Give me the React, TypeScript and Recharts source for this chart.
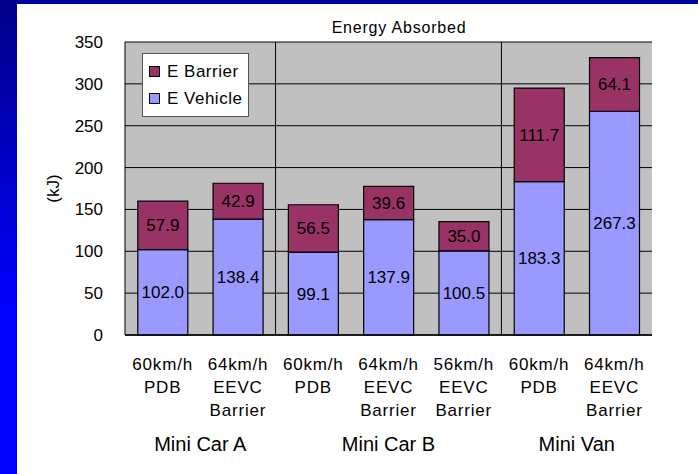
import React from 'react';
import { Bar, BarChart, CartesianGrid, LabelList, Legend, ReferenceLine, XAxis, YAxis } from 'recharts';

const FONT = '"Liberation Sans", Arial, sans-serif';

// one key per test, grouped by vehicle
const categories = ['A-PDB60', 'A-EEVC64', 'B-PDB60', 'B-EEVC64', 'B-EEVC56', 'V-PDB60', 'V-EEVC64'];
const tickLines = [
    ['60km/h', 'PDB'],
    ['64km/h', 'EEVC', 'Barrier'],
    ['60km/h', 'PDB'],
    ['64km/h', 'EEVC', 'Barrier'],
    ['56km/h', 'EEVC', 'Barrier'],
    ['60km/h', 'PDB'],
    ['64km/h', 'EEVC', 'Barrier'],
];
const vehicleEnergy = [102.0, 138.4, 99.1, 137.9, 100.5, 183.3, 267.3];
const barrierEnergy = [57.9, 42.9, 56.5, 39.6, 35.0, 111.7, 64.1];

const groupNames = ['Mini Car A', 'Mini Car B', 'Mini Van'];
const groupSizes = [2, 3, 2];

const yTicks = [0, 50, 100, 150, 200, 250, 300, 350];
const legendOrder = ['E Barrier', 'E Vehicle'];

const chartData = categories.map((key, i) => ({
    key,
    vehicle: vehicleEnergy[i],
    barrier: barrierEnergy[i],
}));

// first and last category index of every group
const groupStarts: number[] = [];
const groupEnds: number[] = [];
groupSizes.reduce((start, size) => {
    groupStarts.push(start);
    groupEnds.push(start + size - 1);
    return start + size;
}, 0);

const CategoryTick = (props: any) => {
    const { x, y, payload } = props;
    const idx = categories.indexOf(payload.value);
    const lines = tickLines[idx] || [];
    const g = groupStarts.indexOf(idx);
    // payload.offset is half a band on a category axis
    const half = payload.offset || 0;
    return (
        <g>
            {lines.map((line, i) => (
                <text
                    key={i}
                    x={x}
                    y={y + 35 + i * 23}
                    textAnchor="middle"
                    fontSize={17}
                    letterSpacing={0.8}
                    fontFamily={FONT}
                    fill="#000"
                >
                    {line}
                </text>
            ))}
            {g >= 0 && (
                <text
                    x={x + (groupSizes[g] - 1) * half}
                    y={y + 116}
                    textAnchor="middle"
                    fontSize={20}
                    fontFamily={FONT}
                    fill="#000"
                >
                    {groupNames[g]}
                </text>
            )}
        </g>
    );
};

const LegendBox = (props: any) => {
    const items = [...(props.payload || [])].sort(
        (a: any, b: any) => legendOrder.indexOf(a.value) - legendOrder.indexOf(b.value)
    );
    return (
        <div
            style={{
                width: 107,
                height: 64,
                boxSizing: 'border-box',
                border: '1px solid #555',
                background: '#fff',
                paddingTop: 4,
                fontFamily: FONT,
            }}
        >
            {items.map((item: any) => (
                <div key={item.value} style={{ display: 'flex', alignItems: 'center', height: 27 }}>
                    <span
                        style={{
                            display: 'inline-block',
                            width: 9,
                            height: 9,
                            border: '1px solid #000',
                            background: item.color,
                            marginLeft: 6,
                            marginRight: 7,
                        }}
                    />
                    <span style={{ fontSize: 17, letterSpacing: 0.5, color: '#000' }}>{item.value}</span>
                </div>
            ))}
        </div>
    );
};

const fmt = (v: any) => Number(v).toFixed(1);

export default function App() {
    return (
        <div
            style={{
                position: 'fixed',
                left: 0,
                top: 0,
                width: 698,
                height: 474,
                background: '#fff',
                overflow: 'hidden',
                fontFamily: FONT,
            }}
        >
            <div style={{ position: 'absolute', left: 0, top: 0, width: 698, height: 4, background: '#0000a0' }} />
            <div
                style={{
                    position: 'absolute',
                    left: 0,
                    top: 0,
                    width: 17,
                    height: 474,
                    background: 'linear-gradient(to bottom, #000088 0%, #0000ff 65%, #0000ff 100%)',
                }}
            />
            <div
                style={{
                    position: 'absolute',
                    left: 299,
                    top: 20,
                    width: 200,
                    textAlign: 'center',
                    fontSize: 16,
                    lineHeight: '16px',
                    letterSpacing: 0.8,
                    color: '#000',
                }}
            >
                Energy Absorbed
            </div>
            <div style={{ position: 'absolute', left: 0, top: 0 }}>
                <BarChart
                    width={698}
                    height={474}
                    data={chartData}
                    barCategoryGap="17%"
                    margin={{ top: 42, right: 46, left: 0, bottom: 0 }}
                >
                    <CartesianGrid horizontal vertical={false} stroke="#000" fill="#c0c0c0" fillOpacity={1} />
                    <XAxis
                        dataKey="key"
                        height={139}
                        interval={0}
                        tickLine={false}
                        tickSize={0}
                        tickMargin={0}
                        axisLine={{ stroke: '#000', strokeWidth: 1.5 }}
                        tick={(p: any) => <CategoryTick {...p} />}
                    />
                    <YAxis
                        width={125}
                        domain={[0, 350]}
                        ticks={yTicks}
                        interval={0}
                        tickLine={false}
                        tickMargin={16}
                        axisLine={{ stroke: '#000' }}
                        tick={{ fontSize: 17, fill: '#000', fontFamily: FONT }}
                        label={{
                            value: '(kJ)',
                            angle: -90,
                            position: 'center',
                            dx: -10,
                            fontSize: 17,
                            fill: '#000',
                            fontFamily: FONT,
                        }}
                    />
                    <Legend
                        layout="vertical"
                        align="center"
                        verticalAlign="middle"
                        wrapperStyle={{ left: 142, top: 53, width: 'auto' }}
                        content={(p: any) => <LegendBox {...p} />}
                    />
                    {groupEnds.slice(0, -1).map((idx) => (
                        <ReferenceLine key={idx} x={categories[idx]} position="end" stroke="#000" strokeWidth={1} />
                    ))}
                    <ReferenceLine x={categories[categories.length - 1]} position="end" stroke="#000" strokeWidth={1.5} />
                    <Bar dataKey="vehicle" name="E Vehicle" stackId="a" fill="#9999ff" stroke="#000" strokeWidth={1.2} isAnimationActive={false}>
                        <LabelList dataKey="vehicle" position="center" formatter={fmt} fontSize={17} fill="#000" fontFamily={FONT} />
                    </Bar>
                    <Bar dataKey="barrier" name="E Barrier" stackId="a" fill="#993366" stroke="#000" strokeWidth={1.2} isAnimationActive={false}>
                        <LabelList dataKey="barrier" position="center" formatter={fmt} fontSize={17} fill="#000" fontFamily={FONT} />
                    </Bar>
                </BarChart>
            </div>
        </div>
    );
}
